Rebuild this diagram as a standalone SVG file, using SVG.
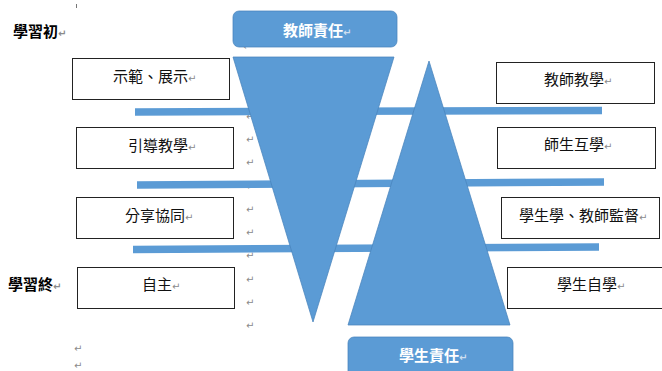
<svg xmlns="http://www.w3.org/2000/svg" width="662" height="371" viewBox="0 0 662 371">
<style>
.pm{font-family:"DejaVu Sans",sans-serif;font-size:10px;fill:#8a8a8a}
.bx{fill:#fff;stroke:#222;stroke-width:1}
.t{font-family:"Noto Sans CJK TC","Noto Sans CJK SC",sans-serif;font-size:15px;fill:#111}
.hd{font-family:"Noto Sans CJK TC","Noto Sans CJK SC",sans-serif;font-size:15px;font-weight:bold;fill:#fff}
.lb{font-family:"Noto Sans CJK TC","Noto Sans CJK SC",sans-serif;font-size:15px;font-weight:bold;fill:#000}
.bar{stroke:#5B9BD5;stroke-width:7.5;fill:none}
.shp{fill:#5B9BD5;stroke:#4A84BC;stroke-width:0.75}
.pmw{font-family:"DejaVu Sans",sans-serif;font-size:10px;fill:#cfdff0}
</style>
<rect width="662" height="371" fill="#fff"/>
<g id="marks">
<rect x="76" y="4" width="1" height="4" fill="#777"/>
<text class="pm" x="243" y="50">↵</text>
<text class="pm" x="246" y="120">↵</text>
<text class="pm" x="246" y="143">↵</text>
<text class="pm" x="246" y="166">↵</text>
<text class="pm" x="246" y="190">↵</text>
<text class="pm" x="246" y="213">↵</text>
<text class="pm" x="246" y="236">↵</text>
<text class="pm" x="246" y="259">↵</text>
<text class="pm" x="246" y="283">↵</text>
<text class="pm" x="246" y="306">↵</text>
<text class="pm" x="246" y="329">↵</text>
<text class="pm" x="74" y="352">↵</text>
<text class="pm" x="74" y="369">↵</text>
</g>
<g id="connectors">
<line class="bar" x1="135" y1="112" x2="602" y2="110.5"/>
<line class="bar" x1="137" y1="185" x2="604" y2="182"/>
<line class="bar" x1="133" y1="249.5" x2="599" y2="247"/>
</g>
<g id="teacher-triangle">
<polygon class="shp" points="233,57 394,57 313,322"/>
</g>
<g id="student-triangle">
<polygon class="shp" points="429,61 348,325 510,325"/>
</g>
<g id="teacher-responsibility">
<rect class="shp" x="233" y="11" width="164" height="36" rx="6"/>
<text class="hd" x="283" y="36">教師責任<tspan class="pmw">↵</tspan></text>
</g>
<g id="student-responsibility">
<rect class="shp" x="348" y="337" width="165" height="40" rx="6"/>
<text class="hd" x="399" y="361">學生責任<tspan class="pmw">↵</tspan></text>
</g>
<g id="label-start"><text class="lb" x="13" y="37">學習初<tspan class="pm">↵</tspan></text></g>
<g id="label-end"><text class="lb" x="8" y="290">學習終<tspan class="pm">↵</tspan></text></g>
<g id="l1"><rect class="bx" x="72.5" y="58.5" width="157" height="41"/><text class="t" x="113" y="82">示範、展示<tspan class="pm">↵</tspan></text></g>
<g id="l2"><rect class="bx" x="76.5" y="127.5" width="157" height="41"/><text class="t" x="128" y="151">引導教學<tspan class="pm">↵</tspan></text></g>
<g id="l3"><rect class="bx" x="76.5" y="197.5" width="157" height="41"/><text class="t" x="125" y="221">分享協同<tspan class="pm">↵</tspan></text></g>
<g id="l4"><rect class="bx" x="77.5" y="267.5" width="157" height="41"/><text class="t" x="142" y="290">自主<tspan class="pm">↵</tspan></text></g>
<g id="r1"><rect class="bx" x="496.5" y="62.5" width="158" height="41"/><text class="t" x="544" y="85">教師教學<tspan class="pm">↵</tspan></text></g>
<g id="r2"><rect class="bx" x="497.5" y="127.5" width="158" height="41"/><text class="t" x="544" y="150">師生互學<tspan class="pm">↵</tspan></text></g>
<g id="r3"><rect class="bx" x="501.5" y="197.5" width="158" height="41"/><text class="t" x="519" y="221">學生學、教師監督<tspan class="pm">↵</tspan></text></g>
<g id="r4"><rect class="bx" x="507.5" y="267.5" width="160" height="41"/><text class="t" x="557" y="290">學生自學<tspan class="pm">↵</tspan></text></g>
</svg>
